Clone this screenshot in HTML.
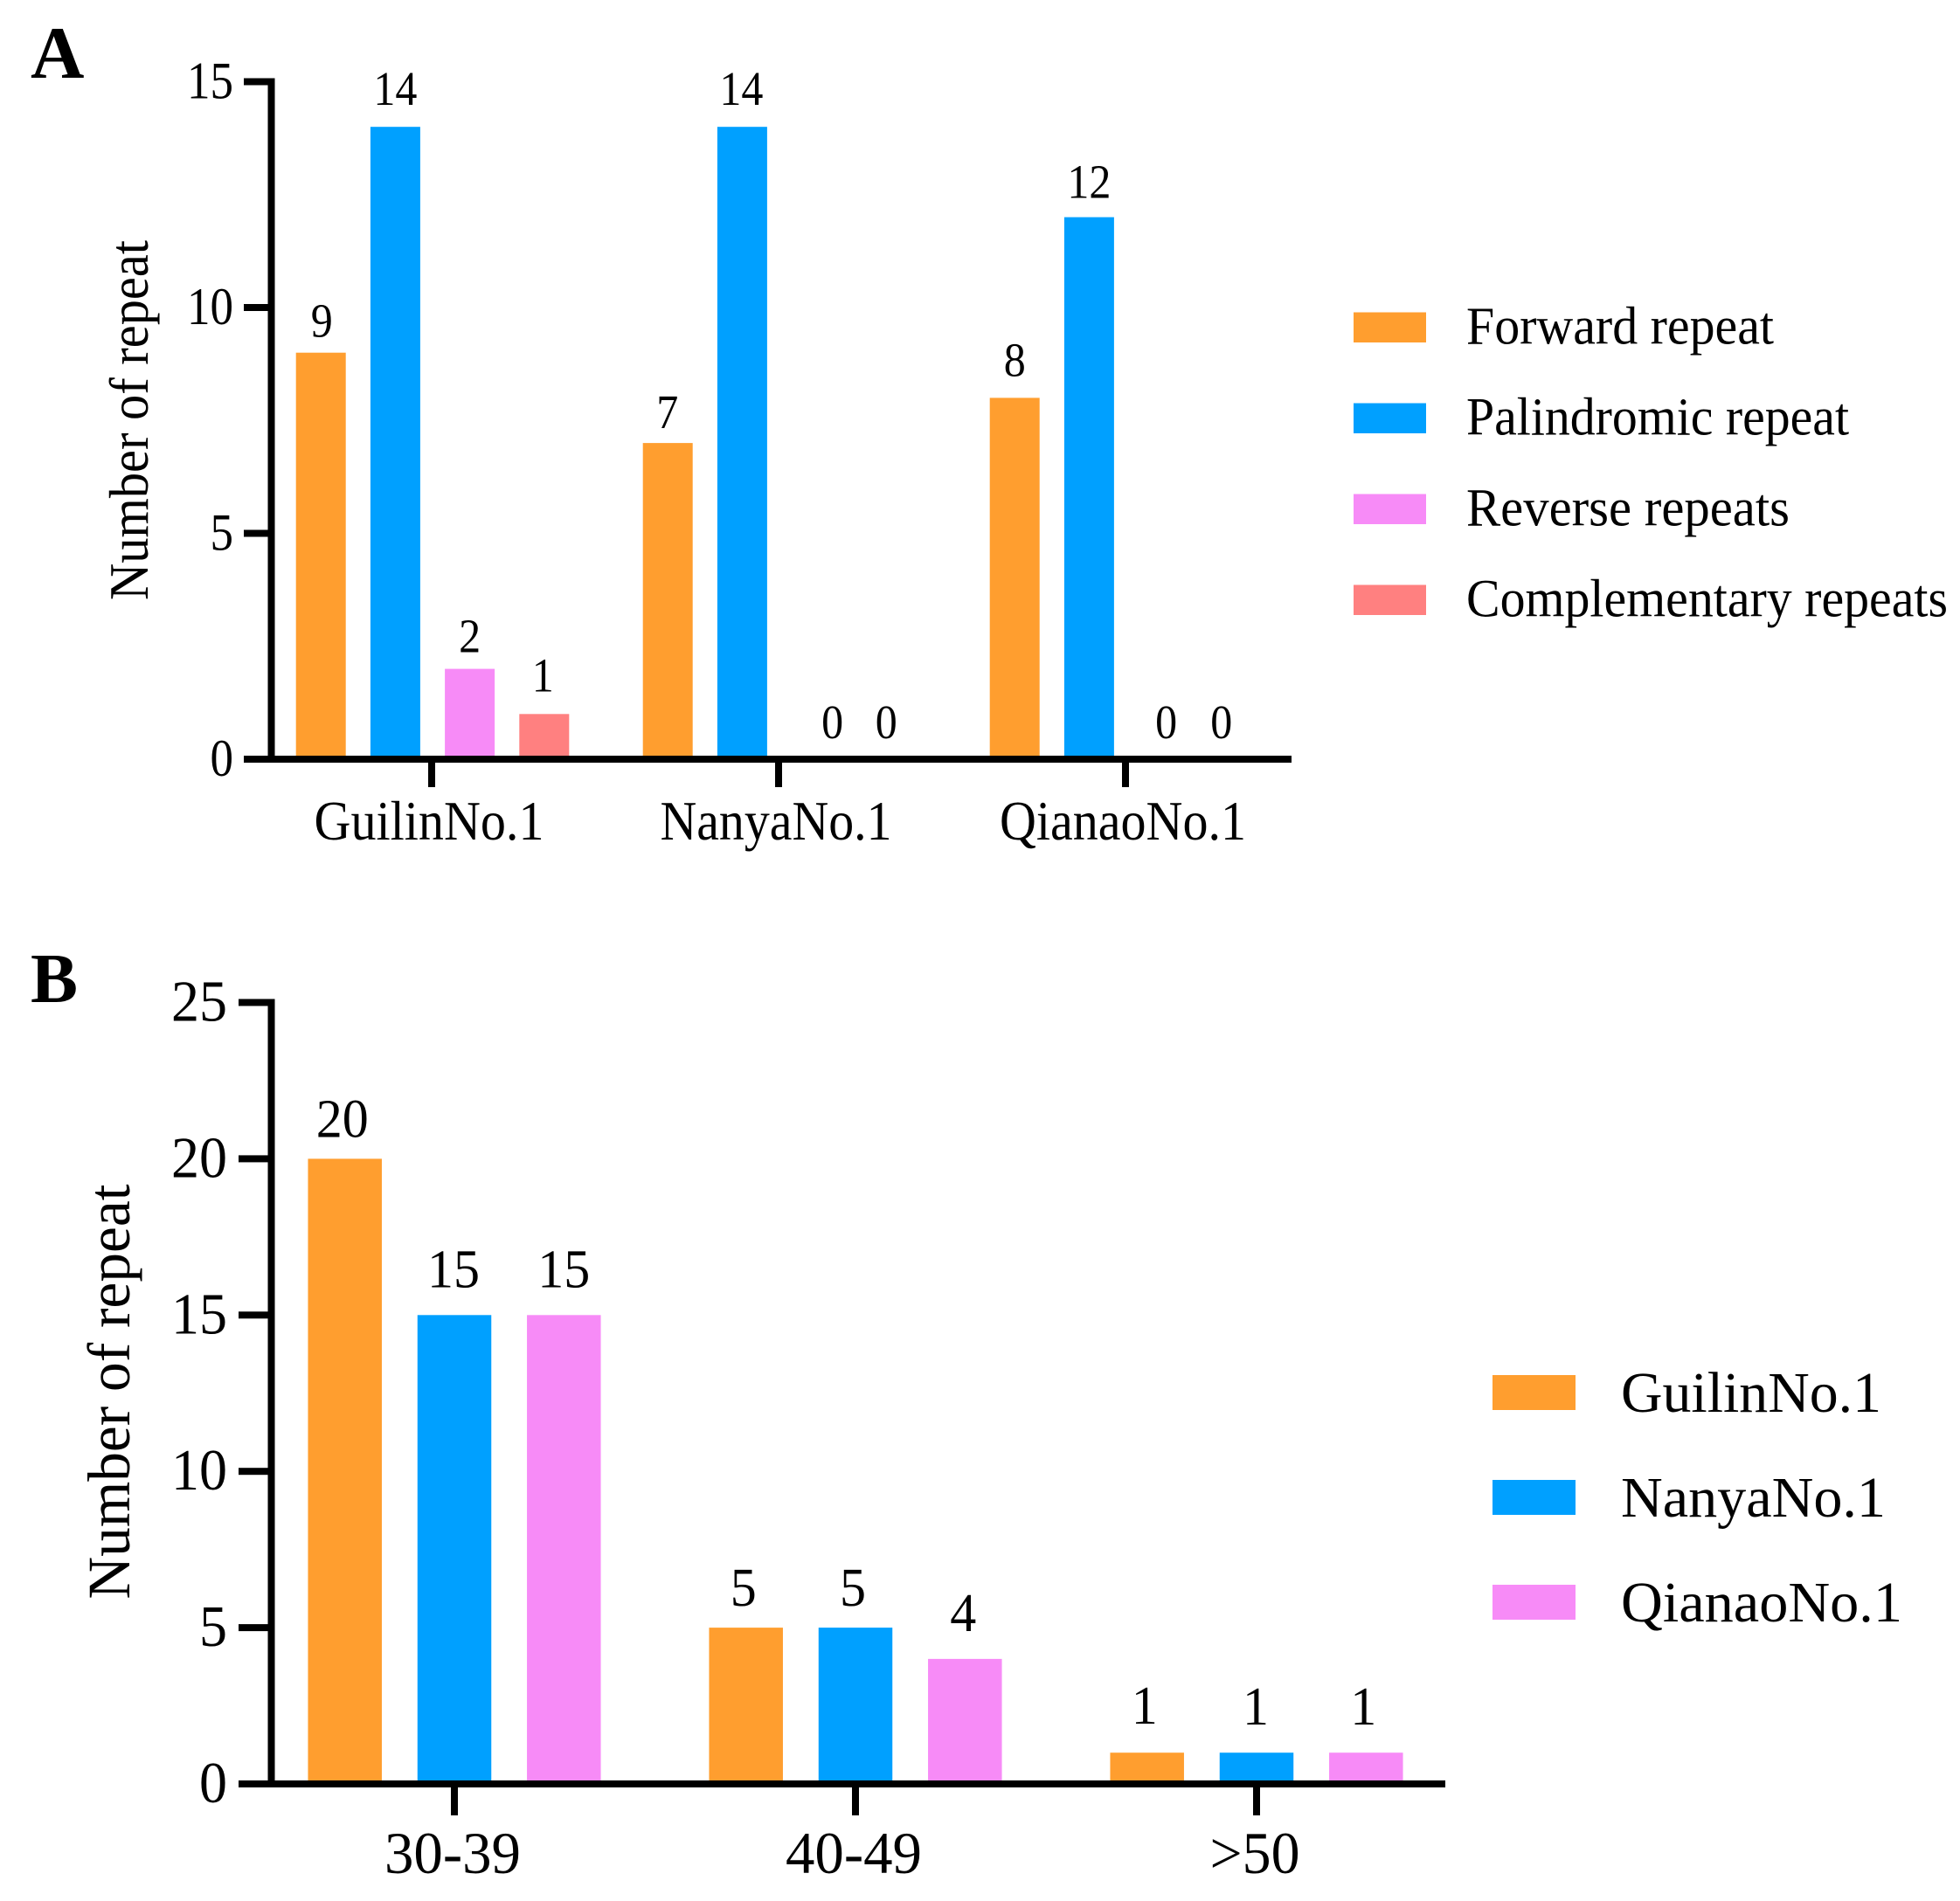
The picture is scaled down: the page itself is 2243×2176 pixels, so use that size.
<!DOCTYPE html>
<html lang="en">
<head>
<meta charset="utf-8">
<title>Number of repeats by type and length</title>
<style>
html,body{margin:0;padding:0;background:#fff;}
svg{display:block;}
text{font-family:"Liberation Serif",serif;fill:#000;}
</style>
</head>
<body>
<svg id="chart" xmlns="http://www.w3.org/2000/svg" width="2243" height="2176" viewBox="0 0 2243 2176"></svg>
<script>
// Panel A data
const categoriesA = ['GuilinNo.1', 'NanyaNo.1', 'QianaoNo.1'];
const seriesNamesA = ['Forward repeat', 'Palindromic repeat', 'Reverse repeats', 'Complementary repeats'];
const forwardRepeat = [9, 7, 8];
const palindromicRepeat = [14, 14, 12];
const reverseRepeats = [2, 0, 0];
const complementaryRepeats = [1, 0, 0];
const ticksA = [0, 5, 10, 15];

// Panel B data
const categoriesB = ['30-39', '40-49', '>50'];
const seriesNamesB = ['GuilinNo.1', 'NanyaNo.1', 'QianaoNo.1'];
const guilinValues = [20, 5, 1];
const nanyaValues = [15, 5, 1];
const qianaoValues = [15, 4, 1];
const ticksB = [0, 5, 10, 15, 20, 25];

const ORANGE = '#ff9e2f', BLUE = '#00a0ff', PINK = '#f78bf7', SALMON = '#ff8080';
const svg = document.getElementById('chart');
const NS = 'http://www.w3.org/2000/svg';
const AXIS_W = 8;

function slug(s) {
  return String(s).toLowerCase().replace(/>/g, 'over-').replace(/[^a-z0-9]+/g, '-').replace(/^-|-$/g, '');
}
function rect(name, x, y, w, h, fill) {
  const el = document.createElementNS(NS, 'rect');
  
  
  el.setAttribute('x', x);
  el.setAttribute('y', y);
  el.setAttribute('width', w);
  el.setAttribute('height', h);
  el.setAttribute('fill', fill);
  svg.appendChild(el);
  return el;
}
function label(name, str, x, y, size, anchor, width, extra) {
  const el = document.createElementNS(NS, 'text');
  
  
  el.setAttribute('x', x);
  el.setAttribute('y', y);
  el.setAttribute('font-size', size);
  el.setAttribute('text-anchor', anchor);
  if (width) {
    el.setAttribute('textLength', width);
    el.setAttribute('lengthAdjust', 'spacingAndGlyphs');
  }
  if (extra && extra.bold) el.setAttribute('font-weight', 'bold');
  if (extra && extra.rotate) el.setAttribute('transform', 'rotate(-90 ' + x + ' ' + y + ')');
  el.textContent = str;
  svg.appendChild(el);
  return el;
}

function drawPanel(cfg) {
  const y = v => cfg.y0 - (v / cfg.domainMax) * (cfg.y0 - cfg.yTop);
  const band = i => cfg.firstCenter + cfg.groupStep * i;
  const n = cfg.series.length;
  const barX = (i, j) => band(i) + (j - (n - 1) / 2) * cfg.barStep - cfg.barWidth / 2;
  const half = AXIS_W / 2;

  // bars and value labels
  cfg.series.forEach((values, j) => {
    values.forEach((v, i) => {
      const yy = y(v);
      const base = slug(cfg.categories[i]) + '-' + slug(cfg.seriesNames[j]);
      if (v > 0) rect(cfg.id + '-bar-' + base, barX(i, j), yy, cfg.barWidth, cfg.y0 - yy, cfg.colors[j]);
      const nudge = cfg.labelNudge[i + ',' + j] || [0, 0];
      const str = String(v);
      label(cfg.id + '-value-' + base, str, barX(i, j) + cfg.barWidth / 2 + nudge[0], yy - cfg.valueGap + nudge[1], cfg.valueSize, 'middle', cfg.valueCharW * str.length);
    });
  });

  // axes
  rect(cfg.id + '-y-axis', cfg.axisX - half, cfg.yTop - half, AXIS_W, cfg.y0 - cfg.yTop + AXIS_W, '#000');
  rect(cfg.id + '-x-axis', cfg.tickLeft, cfg.y0 - half, cfg.axisRight - cfg.tickLeft, AXIS_W, '#000');

  cfg.ticks.forEach(t => {
    const str = String(t);
    rect(cfg.id + '-y-tick-' + t, cfg.tickLeft, y(t) - half, cfg.axisX - cfg.tickLeft, AXIS_W, '#000');
    label(cfg.id + '-y-tick-label-' + t, str, cfg.tickLabelRight, y(t) + cfg.tickBaseline, cfg.tickSize, 'end', cfg.tickCharW * str.length);
  });
  cfg.categories.forEach((c, i) => {
    rect(cfg.id + '-x-tick-' + slug(c), band(i) - half + cfg.tickShift, cfg.y0, AXIS_W, cfg.xTickBottom - cfg.y0, '#000');
    label(cfg.id + '-x-label-' + slug(c), c, band(i) + cfg.xLabelShift, cfg.xLabelBaseline, cfg.xLabelSize, 'middle', cfg.xLabelWidths[i]);
  });

  // y axis title
  label(cfg.id + '-y-axis-title', 'Number of repeat', cfg.titleX, cfg.titleY, cfg.titleSize, 'middle', cfg.titleLen, {rotate: true});

  // panel letter
  label(cfg.id + '-panel-letter', cfg.letter, 35, cfg.letterY, cfg.letterSize, 'start', 0, {bold: true});

  // legend
  cfg.seriesNames.forEach((s, j) => {
    const top = cfg.legendTop + j * cfg.legendStep;
    rect(cfg.id + '-legend-swatch-' + slug(s), cfg.swatchX, top, cfg.swatchW, cfg.swatchH, cfg.colors[j]);
    label(cfg.id + '-legend-label-' + slug(s), s, cfg.legendTextX, top + cfg.legendBaseline, cfg.legendSize, 'start', cfg.legendWidths[j]);
  });
}

drawPanel({
  id: 'panel-a', letter: 'A', letterY: 89, letterSize: 85,
  categories: categoriesA, seriesNames: seriesNamesA,
  series: [forwardRepeat, palindromicRepeat, reverseRepeats, complementaryRepeats],
  colors: [ORANGE, BLUE, PINK, SALMON], ticks: ticksA, domainMax: 15,
  axisX: 310.5, yTop: 93.5, y0: 869, tickLeft: 279, axisRight: 1478,
  firstCenter: 495, groupStep: 397, barStep: 85.2, barWidth: 57,
  valueGap: 21, valueSize: 55, valueCharW: 25,
  labelNudge: {
    '0,0': [1, 3], '0,1': [0, -4], '0,2': [0, 2], '0,3': [-1.5, -5],
    '1,0': [-0.5, 4], '1,1': [-1, -4], '1,2': [18, -3], '1,3': [-5.5, -3],
    '2,0': [0, -4], '2,1': [0, -1], '2,2': [3, -3], '2,3': [-19, -3]
  },
  tickLabelRight: 267, tickBaseline: 19, tickSize: 60, tickCharW: 26.5, tickShift: -1,
  xTickBottom: 901, xLabelShift: -4, xLabelBaseline: 961, xLabelSize: 63, xLabelWidths: [263, 265, 282],
  titleX: 169, titleY: 481, titleSize: 63, titleLen: 412,
  swatchX: 1549, swatchW: 83, swatchH: 34.5, legendTop: 357.5, legendStep: 104,
  legendTextX: 1678, legendBaseline: 36, legendSize: 61, legendWidths: [352, 438, 370, 551]
});

drawPanel({
  id: 'panel-b', letter: 'B', letterY: 1147, letterSize: 81,
  categories: categoriesB, seriesNames: seriesNamesB,
  series: [guilinValues, nanyaValues, qianaoValues],
  colors: [ORANGE, BLUE, PINK], ticks: ticksB, domainMax: 25,
  axisX: 310.5, yTop: 1147.5, y0: 2042, tickLeft: 273, axisRight: 1654,
  firstCenter: 520, groupStep: 459, barStep: 125.3, barWidth: 84.5,
  valueGap: 29, valueSize: 62, valueCharW: 30,
  labelNudge: {
    '0,0': [-3, 4], '0,1': [-1, -3], '0,2': [0, -3],
    '1,0': [-3, 4], '1,1': [-3, 4], '1,2': [-2, -3],
    '2,0': [-3, -4], '2,1': [-1, -3], '2,2': [-3, -3]
  },
  tickLabelRight: 260, tickBaseline: 21, tickSize: 67, tickCharW: 32, tickShift: 0,
  xTickBottom: 2078, xLabelShift: -2, xLabelBaseline: 2144, xLabelSize: 68, xLabelWidths: [156, 156, 103],
  titleX: 148, titleY: 1593, titleSize: 69, titleLen: 475,
  swatchX: 1708, swatchW: 95, swatchH: 40, legendTop: 1574, legendStep: 120,
  legendTextX: 1855, legendBaseline: 42, legendSize: 66, legendWidths: [298, 303, 322]
});
</script>
</body>
</html>
